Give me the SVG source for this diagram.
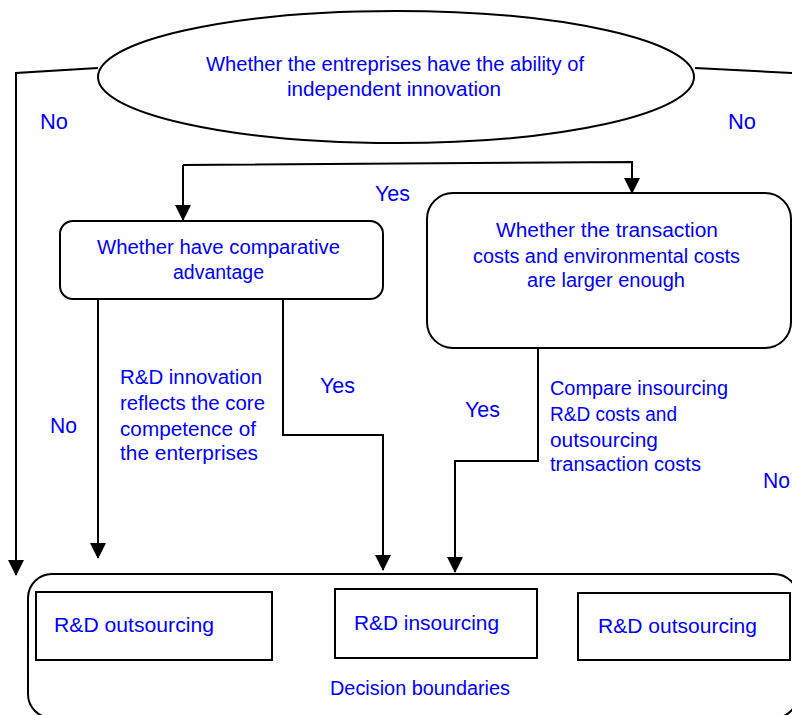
<svg xmlns="http://www.w3.org/2000/svg" width="792" height="715" viewBox="0 0 792 715">
<style>
.shape{fill:#fff;stroke:#000;stroke-width:2}
.line{fill:none;stroke:#000;stroke-width:2}
.arr{marker-end:url(#ah)}
text{font-family:"Liberation Sans",Arial,sans-serif;fill:#0000ff;font-size:20px}
.lab{font-size:22px}
.big{font-size:21px}
</style>
<defs>
<marker id="ah" viewBox="0 0 16 16" refX="15" refY="8" markerWidth="16" markerHeight="16" markerUnits="userSpaceOnUse" orient="auto">
<path d="M0,0 L16,8 L0,16 Z" fill="#000"/>
</marker>
</defs>
<rect width="792" height="715" fill="#fff"/>
<g id="connectors">
<polyline class="line arr" points="98,68 16,73 16,575"/>
<polyline class="line" points="695,68 792,73"/>
<polyline class="line arr" points="183,165 183,220"/>
<polyline class="line arr" points="183,165 632,162 632,193"/>
<polyline class="line arr" points="98,299 98,558"/>
<polyline class="line arr" points="283,299 283,435 383,435 383,570"/>
<polyline class="line arr" points="538,348 538,461 455,461 455,572"/>
</g>
<g id="labels">
<text class="lab" x="40" y="129" textLength="28" lengthAdjust="spacingAndGlyphs">No</text>
<text class="lab" x="728" y="129" textLength="28" lengthAdjust="spacingAndGlyphs">No</text>
<text class="lab" x="375" y="201" textLength="35" lengthAdjust="spacingAndGlyphs">Yes</text>
<text class="lab" x="320" y="393" textLength="35" lengthAdjust="spacingAndGlyphs">Yes</text>
<text class="lab" x="50" y="433" textLength="27" lengthAdjust="spacingAndGlyphs">No</text>
<text class="lab" x="465" y="417" textLength="35" lengthAdjust="spacingAndGlyphs">Yes</text>
<text class="lab" x="763" y="488" textLength="27" lengthAdjust="spacingAndGlyphs">No</text>
<text x="120" y="384" textLength="142" lengthAdjust="spacingAndGlyphs">R&amp;D innovation</text>
<text x="120" y="410" textLength="145" lengthAdjust="spacingAndGlyphs">reflects the core</text>
<text x="120" y="436" textLength="136" lengthAdjust="spacingAndGlyphs">competence of</text>
<text x="120" y="460" textLength="138" lengthAdjust="spacingAndGlyphs">the enterprises</text>
<text x="550" y="395" textLength="178" lengthAdjust="spacingAndGlyphs">Compare insourcing</text>
<text x="550" y="421" textLength="127" lengthAdjust="spacingAndGlyphs">R&amp;D costs and</text>
<text x="550" y="447" textLength="108" lengthAdjust="spacingAndGlyphs">outsourcing</text>
<text x="550" y="471" textLength="151" lengthAdjust="spacingAndGlyphs">transaction costs</text>
</g>
<g id="node-ability">
<ellipse class="shape" cx="396" cy="77" rx="298" ry="66"/>
<text x="206" y="71" textLength="378" lengthAdjust="spacingAndGlyphs">Whether the entreprises have the ability of</text>
<text x="287" y="96" textLength="214" lengthAdjust="spacingAndGlyphs">independent innovation</text>
</g>
<g id="node-advantage">
<rect class="shape" x="60" y="221" width="323" height="78" rx="13"/>
<text x="97" y="254" textLength="243" lengthAdjust="spacingAndGlyphs">Whether have comparative</text>
<text x="173" y="279" textLength="91" lengthAdjust="spacingAndGlyphs">advantage</text>
</g>
<g id="node-costs">
<rect class="shape" x="427" y="193" width="364" height="155" rx="26"/>
<text x="496" y="237" textLength="222" lengthAdjust="spacingAndGlyphs">Whether  the transaction</text>
<text x="473" y="263" textLength="267" lengthAdjust="spacingAndGlyphs">costs and environmental costs</text>
<text x="527" y="287" textLength="158" lengthAdjust="spacingAndGlyphs">are larger enough</text>
</g>
<g id="node-boundaries">
<rect class="shape" x="28" y="574" width="770" height="144" rx="24"/>
<text x="330" y="695" textLength="180" lengthAdjust="spacingAndGlyphs">Decision boundaries</text>
</g>
<g id="node-outsourcing-left">
<rect class="shape" x="36" y="592" width="236" height="68"/>
<text class="big" x="54" y="632" textLength="160" lengthAdjust="spacingAndGlyphs">R&amp;D outsourcing</text>
</g>
<g id="node-insourcing">
<rect class="shape" x="335" y="589" width="202" height="69"/>
<text class="big" x="354" y="630" textLength="145" lengthAdjust="spacingAndGlyphs">R&amp;D insourcing</text>
</g>
<g id="node-outsourcing-right">
<rect class="shape" x="578" y="593" width="212" height="67"/>
<text class="big" x="598" y="633" textLength="159" lengthAdjust="spacingAndGlyphs">R&amp;D outsourcing</text>
</g>
</svg>
